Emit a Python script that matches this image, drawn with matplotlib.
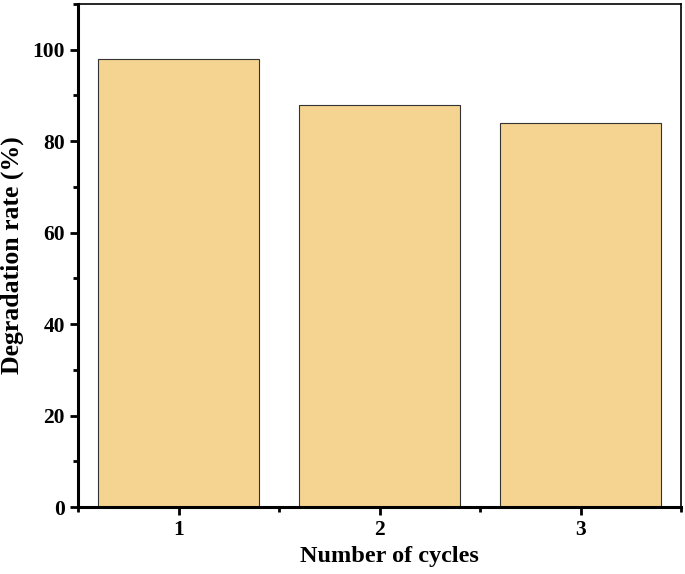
import matplotlib
matplotlib.use('Agg')
import matplotlib.pyplot as plt
from matplotlib.ticker import MultipleLocator

# data
cycles = [1, 2, 3]
rates = [98, 88, 84]

plt.rcParams['font.family'] = 'Liberation Serif'
plt.rcParams['font.weight'] = 'bold'

fig = plt.figure(figsize=(6.85, 5.74), dpi=100)
ax = fig.add_axes([0.1139, 0.1167, 0.8803, 0.8763])

ax.bar(cycles, rates, width=0.8, color='#F5D491', edgecolor='#333333', linewidth=0.8)

ax.set_xlim(0.5, 3.5)
ax.set_ylim(0, 110)
ax.set_xticks(cycles)
ax.xaxis.set_minor_locator(MultipleLocator(0.5))
ax.yaxis.set_major_locator(MultipleLocator(20))
ax.yaxis.set_minor_locator(MultipleLocator(10))

ax.tick_params(which='major', direction='out', length=6, width=2, labelsize=15.5)
ax.tick_params(which='minor', direction='out', length=3.5, width=2)
ax.spines['left'].set_linewidth(2.2)
ax.spines['bottom'].set_linewidth(2.2)
ax.spines['top'].set_linewidth(1.2)
ax.spines['right'].set_linewidth(1.2)

ax.set_xlabel('Number of cycles', fontsize=17.5, fontweight='bold')
ax.xaxis.set_label_coords(0.516, -0.077)
ax.set_ylabel('Degradation rate (%)', fontsize=18.5, fontweight='bold', labelpad=6)

fig.savefig('out.png', dpi=100)
